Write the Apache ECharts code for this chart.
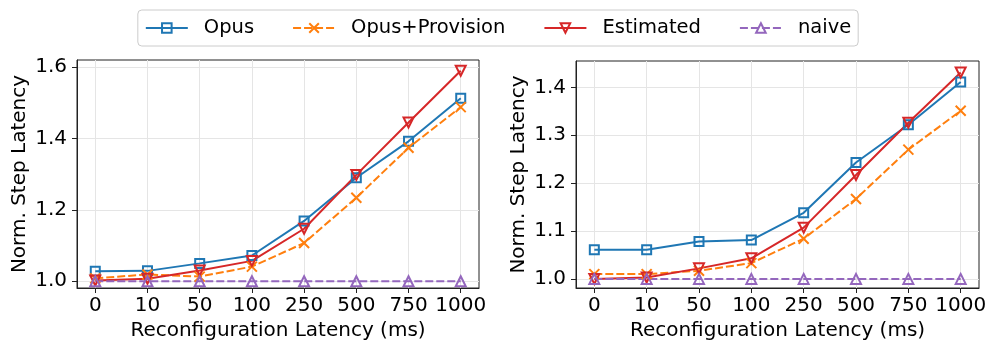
<!DOCTYPE html>
<html>
<head>
<meta charset="utf-8">
<script src="https://cdn.jsdelivr.net/npm/echarts@6/dist/echarts.min.js"></script>
<style>
  html, body { margin: 0; padding: 0; background: #fff; }
  #chart { width: 996px; height: 353px; }
</style>
</head>
<body>
<div id="chart"></div>
<script>
let categories = ['0', '10', '50', '100', '250', '500', '750', '1000'];

// left panel
let leftOpus = [1.028, 1.029, 1.050, 1.072, 1.169, 1.290, 1.392, 1.513];
let leftProvision = [1.008, 1.019, 1.013, 1.041, 1.107, 1.234, 1.374, 1.488];
let leftEstimated = [1.002, 1.007, 1.030, 1.057, 1.147, 1.298, 1.445, 1.590];
let leftNaive = [1.0, 1.0, 1.0, 1.0, 1.0, 1.0, 1.0, 1.0];
let leftTicks = [1.0, 1.2, 1.4, 1.6];

// right panel
let rightOpus = [1.061, 1.061, 1.078, 1.081, 1.138, 1.243, 1.322, 1.411];
let rightProvision = [1.010, 1.010, 1.017, 1.033, 1.084, 1.167, 1.270, 1.351];
let rightEstimated = [1.000, 1.003, 1.022, 1.043, 1.107, 1.217, 1.326, 1.431];
let rightNaive = [1.0, 1.0, 1.0, 1.0, 1.0, 1.0, 1.0, 1.0];
let rightTicks = [1.0, 1.1, 1.2, 1.3, 1.4];

let blue = '#1f77b4', orange = '#ff7f0e', red = '#d62728', purple = '#9467bd';
let font = 'DejaVu Sans';
let xIdx = categories.map((c, i) => i);

function pts(arr) {
    return arr.map((v, i) => [i, v]);
}

function xAxisFor(gridIndex) {
    return {
        type: 'value',
        gridIndex: gridIndex,
        min: -0.35,
        max: 7.35,
        name: 'Reconfiguration Latency (ms)',
        nameLocation: 'middle',
        nameGap: 32,
        nameTextStyle: { fontFamily: font, fontSize: 20, color: '#000' },
        axisLine: { show: true, onZero: false, lineStyle: { color: '#222', width: 1 } },
        axisTick: { show: true, length: 5, customValues: xIdx, lineStyle: { color: '#222' } },
        axisLabel: {
            customValues: xIdx,
            formatter: v => categories[Math.round(v)],
            fontFamily: font, fontSize: 20, color: '#000', margin: 8
        },
        splitLine: { show: true, lineStyle: { color: '#e5e5e5', width: 1 } }
    };
}

function yAxisFor(gridIndex, min, max, ticks) {
    return {
        type: 'value',
        gridIndex: gridIndex,
        min: min,
        max: max,
        name: 'Norm. Step Latency',
        nameLocation: 'middle',
        nameGap: 47,
        nameTextStyle: { fontFamily: font, fontSize: 20, color: '#000' },
        axisLine: { show: true, onZero: false, lineStyle: { color: '#222', width: 1 } },
        axisTick: { show: true, length: 5, customValues: ticks, lineStyle: { color: '#222' } },
        axisLabel: {
            customValues: ticks,
            formatter: v => v.toFixed(1),
            fontFamily: font, fontSize: 20, color: '#000', margin: 10
        },
        splitLine: { show: true, lineStyle: { color: '#e5e5e5', width: 1 } }
    };
}

function seriesFor(name, data, color, symbol, dashed, idx, rotate) {
    return {
        name: name,
        type: 'line',
        xAxisIndex: idx,
        yAxisIndex: idx,
        data: pts(data),
        symbol: symbol,
        symbolSize: symbol === 'rect' ? 9 : 10,
        symbolRotate: rotate || 0,
        showAllSymbol: true,
        lineStyle: { color: color, width: 2, type: dashed ? [8, 3] : 'solid' },
        itemStyle: { color: 'transparent', borderColor: color, borderWidth: 2 },
        emphasis: { disabled: true },
        animation: false
    };
}

let xMark = 'path://M0,0L10,10M10,0L0,10';

let chart = echarts.init(document.getElementById('chart'));

let option = {
    backgroundColor: '#fff',
    animation: false,
    legend: {
        left: 'center',
        top: 10,
        padding: [8, 7, 8, 7],
        borderColor: '#cccccc',
        borderWidth: 1,
        borderRadius: 4,
        itemWidth: 42,
        itemHeight: 12,
        itemGap: 38,
        textStyle: { fontFamily: font, fontSize: 19.5, color: '#000', padding: [0, 0, 0, 11] },
        data: ['Opus', 'Opus+Provision', 'Estimated', 'naive']
    },
    grid: [
        { left: 77, right: 517, top: 60, bottom: 65, show: true, borderColor: '#222', borderWidth: 1 },
        { left: 576, right: 17, top: 61, bottom: 65, show: true, borderColor: '#222', borderWidth: 1 }
    ],
    xAxis: [xAxisFor(0), xAxisFor(1)],
    yAxis: [
        yAxisFor(0, 0.981, 1.62, leftTicks),
        yAxisFor(1, 0.981, 1.455, rightTicks)
    ],
    series: [
        seriesFor('Opus', leftOpus, blue, 'rect', false, 0),
        seriesFor('Opus+Provision', leftProvision, orange, xMark, true, 0),
        seriesFor('Estimated', leftEstimated, red, 'triangle', false, 0, 180),
        seriesFor('naive', leftNaive, purple, 'triangle', true, 0),
        seriesFor('Opus', rightOpus, blue, 'rect', false, 1),
        seriesFor('Opus+Provision', rightProvision, orange, xMark, true, 1),
        seriesFor('Estimated', rightEstimated, red, 'triangle', false, 1, 180),
        seriesFor('naive', rightNaive, purple, 'triangle', true, 1)
    ]
};

chart.setOption(option);
</script>
</body>
</html>
